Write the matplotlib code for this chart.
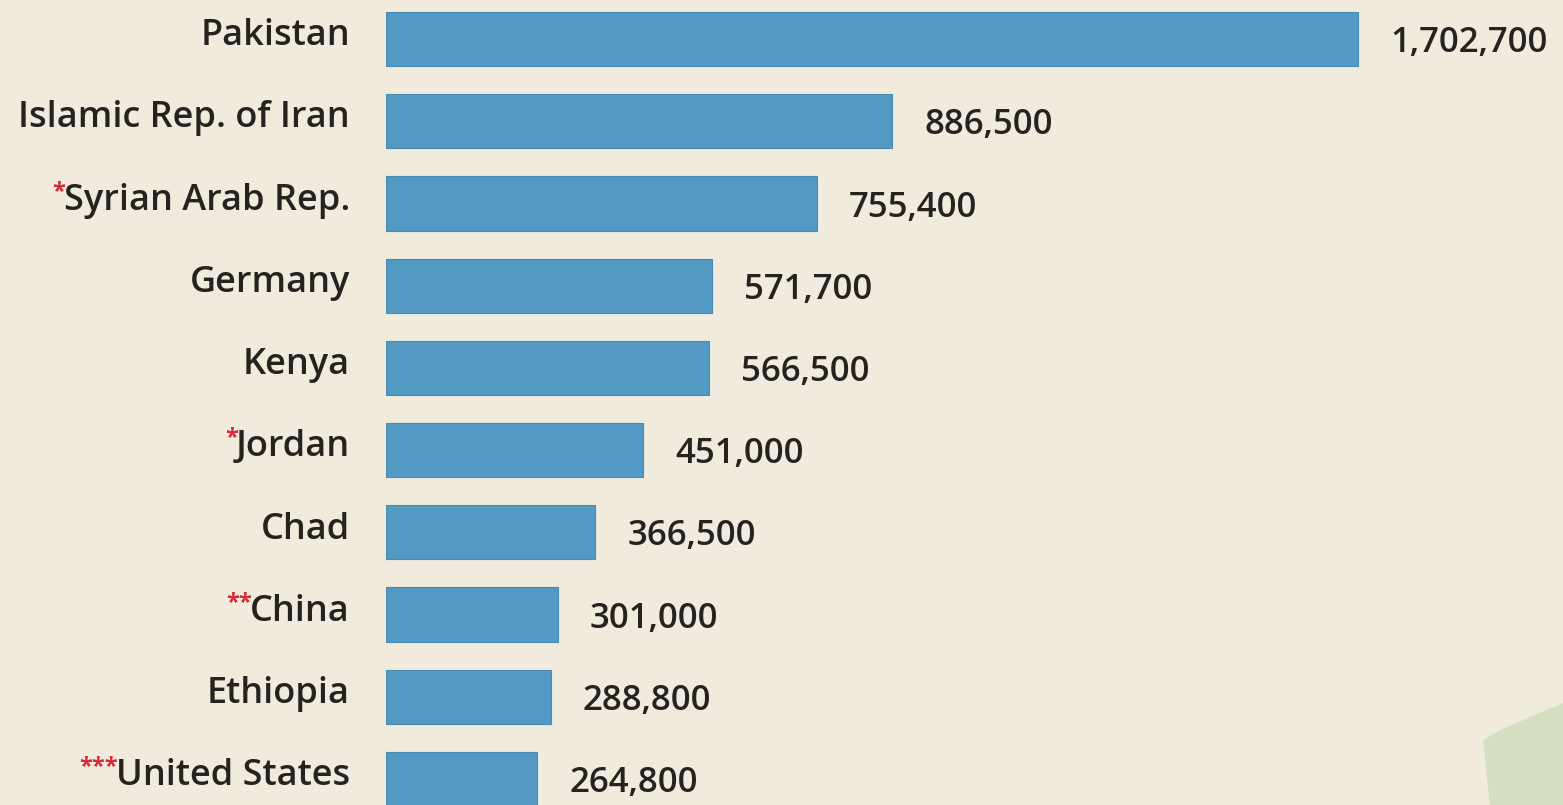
import matplotlib.pyplot as plt
from matplotlib.patches import Polygon

countries = ['Pakistan', 'Islamic Rep. of Iran', 'Syrian Arab Rep.', 'Germany', 'Kenya',
             'Jordan', 'Chad', 'China', 'Ethiopia', 'United States']
marks = ['', '', '*', '', '', '*', '', '**', '', '***']
refugees = [1702700, 886500, 755400, 571700, 566500, 451000, 366500, 301000, 288800, 264800]

bg = '#f0ebdc'
bar_color = '#5299c4'
text_color = '#26221f'

plt.rcParams['font.family'] = ['Open Sans', 'DejaVu Sans']

fig = plt.figure(figsize=(15.63, 8.05), dpi=100, facecolor=bg)

# soft green shape in the lower right corner
fig.patches.append(Polygon([[1483 / 1563, 65 / 805], [1500 / 1563, 75 / 805], [1563 / 1563, 102 / 805],
                            [1563 / 1563, 0], [1490 / 1563, 0]],
                           closed=True, transform=fig.transFigure, facecolor='#d4dfc1',
                           edgecolor='none', zorder=0))

left = 386 / 1563
ax = fig.add_axes([left, 0, 1 - left, 1])
ax.set_facecolor('none')

px_per_unit = 972 / refugees[0]
ax.set_xlim(0, (1563 - 386) / px_per_unit)
ax.set_ylim(9 + 26 / 82.2, -39 / 82.2)

pos = list(range(len(countries)))
ax.barh(pos, refugees, height=0.66, color=bar_color, edgecolor='#4a8bb3', linewidth=0.8)

for y, v in zip(pos, refugees):
    ax.annotate(f'{v:,}', xy=(v, y), xytext=(23, -3), textcoords='offset points',
                ha='left', va='center', fontsize=25, fontweight='semibold', color=text_color)

fig.canvas.draw()
renderer = fig.canvas.get_renderer()
inv = fig.transFigure.inverted()
for y, name, m in zip(pos, countries, marks):
    t = ax.annotate(name, xy=(0, y), xytext=(-26, 2), textcoords='offset points',
                    ha='right', va='center', fontsize=26, fontweight='semibold', color=text_color)
    if m:
        bb = t.get_window_extent(renderer)
        x0, y1 = inv.transform((bb.x0 + 2, bb.y1 + 3))
        fig.text(x0, y1, m, ha='right', va='top', fontsize=17,
                 color='#d9283c', fontweight='bold')

ax.axis('off')
fig.savefig('out.png', dpi=100, facecolor=bg)
